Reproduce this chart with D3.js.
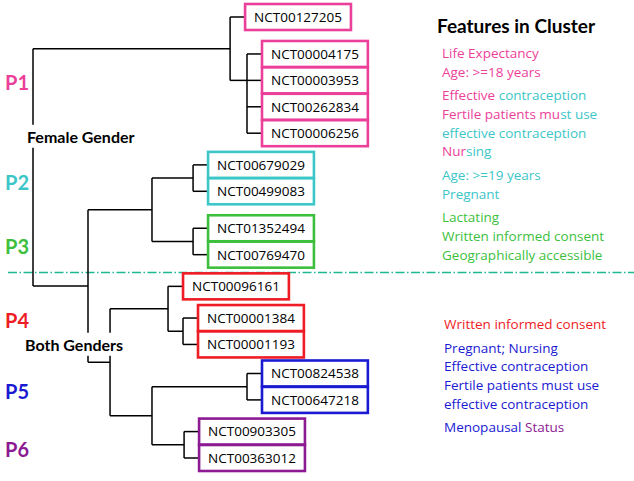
<!DOCTYPE html>
<html><head><meta charset="utf-8">
<script src="https://cdn.jsdelivr.net/npm/d3@7"></script>
<style>html,body{margin:0;padding:0;background:#fff;} svg{display:block;}</style>
</head><body><svg id="chart" width="634" height="481"></svg>
<script>
// ---------------- DATA ----------------
const clusterNames = ["P1", "P2", "P3", "P4", "P5", "P6"];
const leafIds = ["NCT00127205", "NCT00004175", "NCT00003953", "NCT00262834", "NCT00006256",
  "NCT00679029", "NCT00499083", "NCT01352494", "NCT00769470",
  "NCT00096161", "NCT00001384", "NCT00001193",
  "NCT00824538", "NCT00647218", "NCT00903305", "NCT00363012"];
const leafClusters = ["P1", "P1", "P1", "P1", "P1", "P2", "P2", "P3", "P3", "P4", "P4", "P4", "P5", "P5", "P6", "P6"];
// leaf order (row slot, with gaps between groups)
const leafRows = [0, 1.4, 2.4, 3.4, 4.4, 5.6, 6.6, 8, 9, 10.2, 11.4, 12.4, 13.5, 14.5, 15.7, 16.7];
// merge levels of internal nodes (0 = root, 100 = closest)
const tree = {level: 0, children: [
  {level: 92.1, children: [{leaf: 0}, {level: 100, attach: 1, children: [{leaf: 1}, {leaf: 2}, {leaf: 3}, {leaf: 4}]}]},
  {level: 25.7, children: [
    {level: 55.6, children: [
      {level: 74.8, children: [{leaf: 5}, {leaf: 6}]},
      {level: 74.8, children: [{leaf: 7}, {leaf: 8}]}]},
    {level: 36.0, children: [
      {level: 63.1, children: [{leaf: 9}, {level: 70.1, children: [{leaf: 10}, {leaf: 11}]}]},
      {level: 55.6, children: [
        {level: 100, children: [{leaf: 12}, {leaf: 13}]},
        {level: 70.6, children: [{leaf: 14}, {leaf: 15}]}]}]}]}
]};
const groupLabels = ["Female Gender", "Both Genders"];
const featureTitle = "Features in Cluster";
const featureBlocks = [
  [ // female clusters
    [[["Life Expectancy", "P1"]], [["Age: >=18 years", "P1"]]],
    [[["Effective ", "P1"], ["contraception", "P2"]],
     [["Fertile patients mu", "P1"], ["st use", "P2"]],
     [["effective contraception", "P2"]],
     [["Nur", "P1"], ["sing", "P2"]]],
    [[["Age: >=19 years", "P2"]], [["Pregnant", "P2"]]],
    [[["Lactating", "P3"]], [["Written informed consent", "P3"]], [["Geographically accessible", "P3"]]]
  ],
  [ // both genders clusters
    [[["Written informed consent", "P4"]]],
    [[["Pregnant; Nursing", "P5"]], [["Effective contraception", "P5"]],
     [["Fertile patients must use", "P5"]], [["effective contraception", "P5"]]],
    [[["Menopausal ", "P5"], ["Status", "P6"]]]
  ]
];

// ---------------- STYLE ----------------
const colors = {P1: "#ec3f9a", P2: "#3cc6c8", P3: "#3dbf3d", P4: "#ee1c24", P5: "#1a1ad2", P6: "#8c1a92"};
const FONT = "'Open Sans', Lato, sans-serif";
const BOLD = "Lato, 'Open Sans', sans-serif";

const svg = d3.select("#chart");
const x = d3.scaleLinear().domain([0, 100]).range([33, 247]);
const y = d3.scaleLinear().domain([0, 16.7]).range([17, 458]);
const stub = 15, boxH = 26, pad = 9;

const root = d3.hierarchy(tree, d => d.children);
root.eachAfter(n => {
  if (!n.children) n.py = y(leafRows[n.data.leaf]);
  else {
    const ys = n.children.map(c => c.py);
    n.py = n.data.attach != null ? ys[n.data.attach] : (d3.min(ys) + d3.max(ys)) / 2;
    n.px = x(n.data.level);
  }
});
root.each(n => { if (!n.children) n.px = n.parent.px + stub; });

// separator line between female-only and both-gender clusters
const sepY = y((leafRows[8] + leafRows[9]) / 2) + 2;
svg.append("line").attr("x1", 8).attr("x2", 634).attr("y1", sepY).attr("y2", sepY)
  .attr("stroke", "#1fb894").attr("stroke-width", 1.3).attr("stroke-dasharray", "9 2.5 1.5 2.5");

const g = svg.append("g").attr("stroke", "#000").attr("stroke-width", 1.5).attr("fill", "none");
const internal = root.descendants().filter(n => n.children);
g.selectAll("line.v").data(internal).join("line").attr("class", "v")
  .attr("x1", n => n.px).attr("x2", n => n.px)
  .attr("y1", n => d3.min(n.children, c => c.py)).attr("y2", n => d3.max(n.children, c => c.py));
g.selectAll("line.h").data(root.descendants().filter(n => n.parent)).join("line").attr("class", "h")
  .attr("x1", n => n.parent.px).attr("x2", n => n.px)
  .attr("y1", n => n.py).attr("y2", n => n.py);

// leaf boxes
const leaves = root.leaves();
const lg = svg.selectAll("g.leaf").data(leaves).join("g").attr("class", "leaf");
lg.append("text").attr("x", n => n.px + pad).attr("y", n => n.py).attr("dy", "0.36em")
  .attr("font-family", FONT).attr("font-size", 13.5).attr("fill", "#000")
  .text(n => leafIds[n.data.leaf]);
lg.each(function(n) {
  const t = d3.select(this).select("text");
  const w = t.node().getComputedTextLength();
  d3.select(this).insert("rect", "text").attr("x", n.px).attr("y", n.py - boxH / 2)
    .attr("width", w + 2 * pad).attr("height", boxH).attr("fill", "#fff")
    .attr("stroke", colors[leafClusters[n.data.leaf]]).attr("stroke-width", 2.6);
});

// cluster labels
svg.selectAll("text.cl").data(clusterNames).join("text").attr("class", "cl")
  .attr("x", 5)
  .attr("y", c => d3.mean(leaves.filter(n => leafClusters[n.data.leaf] === c), n => n.py) + 5)
  .attr("dy", "0.36em").attr("font-family", BOLD).attr("font-weight", "bold").attr("font-size", 20)
  .attr("fill", c => colors[c]).text(c => c);

// gender group labels with white background
const glPos = [[27, 137], [25, 345]];
groupLabels.forEach((lab, i) => {
  const t = svg.append("text").attr("x", glPos[i][0]).attr("y", glPos[i][1]).attr("dy", "0.36em")
    .attr("font-family", BOLD).attr("font-weight", "bold").attr("font-size", 16).text(lab);
  const b = t.node().getBBox();
  svg.insert("rect", () => t.node()).attr("x", b.x - 1).attr("y", b.y - 2)
    .attr("width", b.width + 2).attr("height", b.height + 4).attr("fill", "#fff");
});

// features
svg.append("text").attr("x", 437).attr("y", 26).attr("dy", "0.36em")
  .attr("font-family", BOLD).attr("font-weight", "bold").attr("font-size", 19).text(featureTitle);
const blockStart = [[442, 53], [444, 324]];
const lineH = 18.7, groupGap = 5;
featureBlocks.forEach((block, bi) => {
  let yy = blockStart[bi][1];
  block.forEach((grp, gi) => {
    if (gi > 0) yy += groupGap;
    grp.forEach(line => {
      const t = svg.append("text").attr("x", blockStart[bi][0]).attr("y", yy).attr("dy", "0.36em")
        .attr("font-family", FONT).attr("font-size", 13.5);
      t.selectAll("tspan").data(line).join("tspan").attr("fill", s => colors[s[1]]).text(s => s[0]);
      yy += lineH;
    });
  });
});
</script></body></html>
